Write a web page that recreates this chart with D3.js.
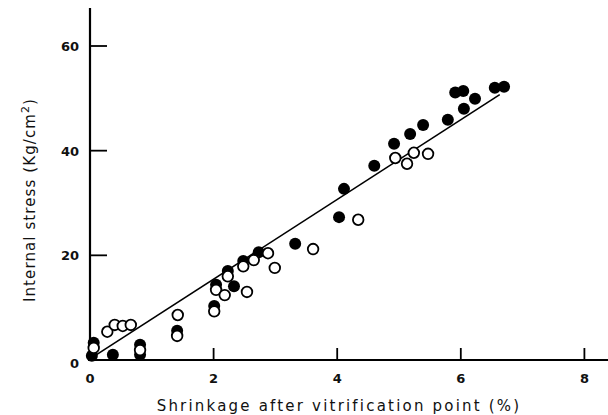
<!DOCTYPE html>
<html>
<head>
<meta charset="utf-8">
<script src="https://cdn.jsdelivr.net/npm/d3@7"></script>
<style>
  body { margin: 0; background: #fff; }
  text { font-family: "DejaVu Sans", sans-serif; fill: #111; }
</style>
</head>
<body>
<div id="chart"></div>
<script>
// filled circles (x = shrinkage %, y = stress)
const filledX = [0.03, 0.06, 0.37, 0.81, 0.81, 1.41, 2.01, 2.04, 2.33, 2.23, 2.48, 2.73, 3.32, 4.03, 4.11, 4.60, 4.92, 5.18, 5.39, 5.79, 5.91, 6.04, 6.23, 6.05, 6.55, 6.70];
const filledY = [0.8, 3.3, 1.0, 1.0, 2.9, 5.6, 10.3, 14.4, 14.1, 17.0, 18.9, 20.6, 22.2, 27.3, 32.7, 37.1, 41.3, 43.2, 44.9, 45.9, 51.1, 51.4, 49.9, 48.0, 52.0, 52.2];

// open circles
const openX = [0.06, 0.28, 0.40, 0.53, 0.66, 0.81, 1.41, 1.42, 2.01, 2.04, 2.18, 2.23, 2.48, 2.54, 2.65, 2.88, 2.99, 3.61, 4.34, 4.94, 5.13, 5.24, 5.47];
const openY = [2.3, 5.4, 6.7, 6.5, 6.7, 1.9, 4.6, 8.6, 9.3, 13.4, 12.4, 16.0, 17.9, 13.0, 19.1, 20.4, 17.6, 21.2, 26.8, 38.6, 37.5, 39.6, 39.4];

// regression line end points
const fitX = [0.05, 6.63];
const fitY = [0.6, 50.7];

const xTicks = [0, 2, 4, 6, 8];
const yTicks = [0, 20, 40, 60];

let width = 608,
  height = 415;

let svg = d3.select('#chart').append('svg')
  .attr('width', width)
  .attr('height', height);

let x = d3.scaleLinear().domain([0, 8]).range([90, 584.4]);
let y = d3.scaleLinear().domain([0, 60]).range([360, 46]);

// axes lines
svg.append('line')
  .attr('x1', 90).attr('x2', 90)
  .attr('y1', 8).attr('y2', y(0) + 1)
  .attr('stroke', '#000').attr('stroke-width', 2.2);

svg.append('line')
  .attr('x1', 88).attr('x2', width)
  .attr('y1', y(0)).attr('y2', y(0))
  .attr('stroke', '#000').attr('stroke-width', 2.2);

// inward ticks
svg.selectAll('.xtick')
  .data(xTicks.filter(d => d > 0))
  .enter().append('line')
  .attr('x1', d => x(d)).attr('x2', d => x(d))
  .attr('y1', y(0)).attr('y2', y(0) - 12)
  .attr('stroke', '#000').attr('stroke-width', 1.8);

svg.selectAll('.ytick')
  .data(yTicks.filter(d => d > 0))
  .enter().append('line')
  .attr('x1', 90).attr('x2', 107)
  .attr('y1', d => y(d)).attr('y2', d => y(d))
  .attr('stroke', '#000').attr('stroke-width', 1.8);

// tick labels
svg.selectAll('.xlab')
  .data(xTicks)
  .enter().append('text')
  .attr('x', d => x(d))
  .attr('y', 383)
  .attr('text-anchor', 'middle')
  .style('font-size', '13px')
  .style('font-weight', 'bold')
  .text(d => d);

svg.selectAll('.ylab')
  .data(yTicks)
  .enter().append('text')
  .attr('x', 79)
  .attr('y', d => y(d) + (d === 0 ? 8 : 5))
  .attr('text-anchor', 'end')
  .style('font-size', '13px')
  .style('font-weight', 'bold')
  .text(d => d);

// fit line
svg.append('line')
  .attr('x1', x(fitX[0])).attr('y1', y(fitY[0]))
  .attr('x2', x(fitX[1])).attr('y2', y(fitY[1]))
  .attr('stroke', '#000').attr('stroke-width', 1.6);

// points
svg.selectAll('.filled')
  .data(d3.zip(filledX, filledY))
  .enter().append('circle')
  .attr('cx', d => x(d[0]))
  .attr('cy', d => y(d[1]))
  .attr('r', 6)
  .attr('fill', '#000');

svg.selectAll('.open')
  .data(d3.zip(openX, openY))
  .enter().append('circle')
  .attr('cx', d => x(d[0]))
  .attr('cy', d => y(d[1]))
  .attr('r', 5.3)
  .attr('fill', '#fff')
  .attr('stroke', '#000')
  .attr('stroke-width', 1.8);

// axis titles
svg.append('text')
  .attr('x', 339)
  .attr('y', 411)
  .attr('text-anchor', 'middle')
  .style('font-size', '15px')
  .style('letter-spacing', '2.2px')
  .text('Shrinkage after vitrification point (%)');

let yt = svg.append('text')
  .attr('transform', 'translate(35,200) rotate(-90)')
  .attr('text-anchor', 'middle')
  .style('font-size', '15px')
  .style('letter-spacing', '1.1px');
yt.append('tspan').text('Internal stress (Kg/cm');
yt.append('tspan').attr('dy', -6).style('font-size', '11px').text('2');
yt.append('tspan').attr('dy', 6).text(')');
</script>
</body>
</html>
